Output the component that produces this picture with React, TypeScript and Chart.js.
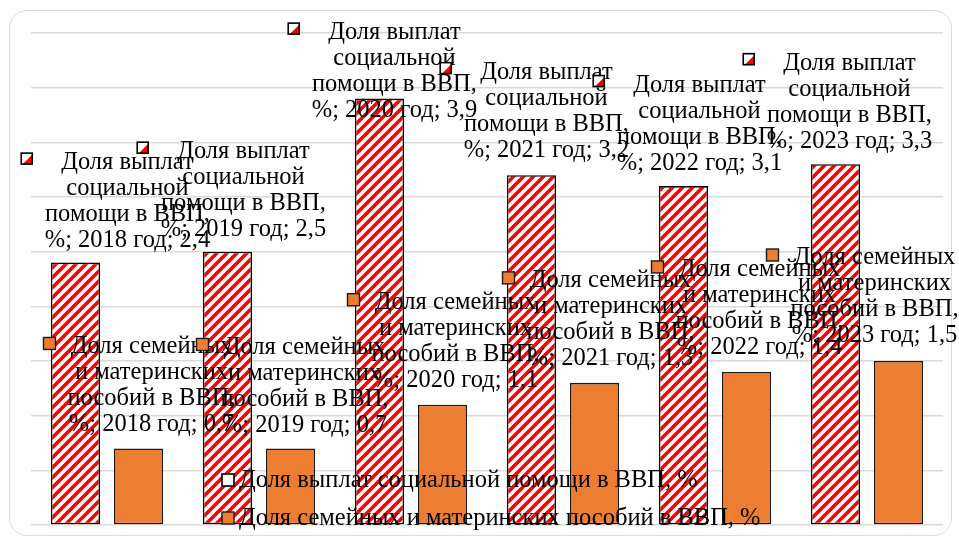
import React, { useEffect, useRef } from "react";
import { Chart, registerables } from "chart.js";

Chart.register(...registerables);

// ---- data ----
const categories = ["2018 год", "2019 год", "2020 год", "2021 год", "2022 год", "2023 год"];
const socialValues = [2.4, 2.5, 3.9, 3.2, 3.1, 3.3];
const familyValues = [0.7, 0.7, 1.1, 1.3, 1.4, 1.5];
const seriesNames = [
  "Доля выплат социальной помощи в ВВП, %",
  "Доля семейных и материнских пособий в ВВП, %",
];
const yMin = 0;
const yMax = 4.5;
const yStep = 0.5;

// ---- layout (label placement, not data) ----
const lineWordCounts = [
  [2, 1, 3],
  [2, 2, 3],
];
const socialLabelOffsets = [
  [52, -100],
  [16, -100],
  [15, -66],
  [15, -103],
  [16, -101],
  [14, -101],
];
const familyLabelOffsets = [
  [13, -102],
  [14, -101],
  [13, -102],
  [16, -102],
  [13, -102],
  [-24, -103],
];
const labelOffsets = [socialLabelOffsets, familyLabelOffsets];

const FONT = '24.5px "Liberation Serif", "Times New Roman", serif';
const LINE_H = 26;
const ORANGE = "#ED7D31";
const RED = "#FF0000";

function fmt(v: number) {
  return String(v).replace(".", ",");
}

function makePattern(): CanvasPattern | string {
  const p = 10;
  const c = document.createElement("canvas");
  c.width = p;
  c.height = p;
  const g = c.getContext("2d");
  if (!g) return RED;
  g.fillStyle = "#ffffff";
  g.fillRect(0, 0, p, p);
  g.strokeStyle = RED;
  g.lineWidth = 3.6;
  g.lineCap = "square";
  g.beginPath();
  g.moveTo(-2, p + 2);
  g.lineTo(p + 2, -2);
  g.moveTo(-2, 2);
  g.lineTo(2, -2);
  g.moveTo(p - 2, p + 2);
  g.lineTo(p + 2, p - 2);
  g.stroke();
  const pat = g.createPattern(c, "repeat");
  return pat || RED;
}

function drawSocialMarker(ctx: CanvasRenderingContext2D, cx: number, cy: number, s: number) {
  const x = cx - s / 2;
  const y = cy - s / 2;
  ctx.fillStyle = "#ffffff";
  ctx.fillRect(x, y, s, s);
  ctx.fillStyle = RED;
  ctx.beginPath();
  ctx.moveTo(x + s, y + s * 0.15);
  ctx.lineTo(x + s, y + s);
  ctx.lineTo(x + s * 0.15, y + s);
  ctx.closePath();
  ctx.fill();
  ctx.strokeStyle = "#000";
  ctx.lineWidth = 1.6;
  ctx.strokeRect(x, y, s, s);
}

function drawFamilyMarker(ctx: CanvasRenderingContext2D, cx: number, cy: number, s: number) {
  const x = cx - s / 2;
  const y = cy - s / 2;
  ctx.fillStyle = ORANGE;
  ctx.fillRect(x, y, s, s);
  ctx.strokeStyle = "#1a1a1a";
  ctx.lineWidth = 1.4;
  ctx.strokeRect(x, y, s, s);
}

const labelPlugin = {
  id: "valueLabels",
  afterDatasetsDraw(chart: any) {
    const ctx: CanvasRenderingContext2D = chart.ctx;
    ctx.save();
    ctx.font = FONT;
    ctx.textBaseline = "middle";
    chart.data.datasets.forEach((ds: any, di: number) => {
      const meta = chart.getDatasetMeta(di);
      meta.data.forEach((bar: any, i: number) => {
        const value = ds.data[i] as number;
        const words = seriesNames[di].split(" ");
        const lines: string[] = [];
        let k = 0;
        lineWordCounts[di].forEach((c) => {
          lines.push(words.slice(k, k + c).join(" "));
          k += c;
        });
        lines.push(`${words.slice(k).join(" ")}; ${categories[i]}; ${fmt(value)}`);
        const [dx, dy] = labelOffsets[di][i];
        const cx = bar.x + dx;
        const y1 = bar.y + dy;
        const maxW = Math.max(...lines.map((l) => ctx.measureText(l).width));
        const left = cx - maxW / 2;
        ctx.fillStyle = "#000";
        ctx.textAlign = "center";
        lines.forEach((l, li) => ctx.fillText(l, cx, y1 + li * LINE_H));
        if (di === 0) drawSocialMarker(ctx, left - 18, y1 - 4, 11);
        else drawFamilyMarker(ctx, left - 18, y1 - 3, 12);
        ctx.fillStyle = "#000";
      });
    });
    ctx.restore();
  },
  afterDraw(chart: any) {
    const ctx: CanvasRenderingContext2D = chart.ctx;
    const area = chart.chartArea;
    ctx.save();
    ctx.font = FONT;
    ctx.textBaseline = "middle";
    ctx.textAlign = "left";
    const mx = area.left + 197;
    const rows = [area.bottom - 45, area.bottom - 7];
    rows.forEach((ry, idx) => {
      const s = 12;
      if (idx === 0) {
        ctx.fillStyle = "#fff";
        ctx.fillRect(mx - s / 2, ry - s / 2, s, s);
        ctx.strokeStyle = "#000";
        ctx.lineWidth = 1.6;
        ctx.strokeRect(mx - s / 2, ry - s / 2, s, s);
      } else {
        drawFamilyMarker(ctx, mx, ry, s);
      }
      ctx.fillStyle = "#000";
      ctx.fillText(seriesNames[idx], mx + 11, ry + 1);
    });
    ctx.restore();
  },
};

export default function App() {
  const canvasRef = useRef<HTMLCanvasElement | null>(null);

  useEffect(() => {
    document.body.style.margin = "0";
    const canvas = canvasRef.current;
    if (!canvas) return;
    const pattern = makePattern();
    const chart = new Chart(canvas, {
      type: "bar",
      data: {
        labels: categories,
        datasets: [
          {
            label: seriesNames[0],
            data: socialValues,
            backgroundColor: pattern as any,
            borderColor: "#000",
            borderWidth: 1.6,
            borderSkipped: false,
            categoryPercentage: 0.83,
            barPercentage: 0.78,
          },
          {
            label: seriesNames[1],
            data: familyValues,
            backgroundColor: ORANGE,
            borderColor: "#1a1a1a",
            borderWidth: 1.6,
            borderSkipped: false,
            categoryPercentage: 0.83,
            barPercentage: 0.78,
          },
        ],
      },
      options: {
        responsive: false,
        animation: false,
        devicePixelRatio: 1,
        layout: { padding: { left: 31, right: 16, top: 33, bottom: 18 } },
        plugins: {
          legend: { display: false },
          tooltip: { enabled: false },
        },
        scales: {
          x: { display: false },
          y: {
            display: true,
            min: yMin,
            max: yMax,
            ticks: { display: false, stepSize: yStep },
            border: { display: false },
            grid: { color: "#d9d9d9", lineWidth: 1.4, drawTicks: false },
          },
        },
      },
      plugins: [labelPlugin],
    });
    return () => chart.destroy();
  }, []);

  return (
    <div style={{ position: "relative", width: 959, height: 543, background: "#fff", overflow: "hidden" }}>
      <div
        style={{
          position: "absolute",
          left: 9,
          top: 10,
          width: 943,
          height: 526,
          border: "1.5px solid #dcdcdc",
          borderRadius: 18,
          boxSizing: "border-box",
        }}
      />
      <canvas
        ref={canvasRef}
        width={959}
        height={543}
        style={{ position: "absolute", left: 0, top: 0, width: 959, height: 543 }}
      />
    </div>
  );
}
